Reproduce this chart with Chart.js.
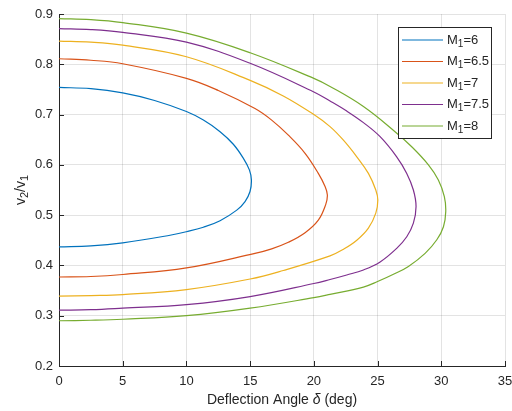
<!DOCTYPE html>
<html>
<head>
<meta charset="utf-8">
<script src="https://cdn.jsdelivr.net/npm/chart.js@4.4.0/dist/chart.umd.min.js"></script>
<style>
  html, body { margin: 0; padding: 0; background: #fff; }
  #wrap { width: 512px; height: 411px; position: relative; }
</style>
</head>
<body>
<div id="wrap"><canvas id="shockChart"></canvas></div>
<script>
// Curves go from the upper branch at delta=0, round the nose, back along the lower branch
const delta6 = [0, 2.5, 5, 7.5, 10, 11.33, 12.64, 13.68, 14.47, 14.94, 15.1, 14.99, 14.6, 13.95, 12.64, 11.33, 10, 8.71, 5, 2.5, 0];
const v6 =     [0.754, 0.7515, 0.743, 0.728, 0.706, 0.689, 0.666, 0.641, 0.613, 0.590, 0.570, 0.547, 0.527, 0.510, 0.489, 0.476, 0.467, 0.460, 0.445, 0.439, 0.437];

const delta65 = [0, 2.5, 5, 10, 12.5, 15.38, 16.69, 18.0, 19.31, 20.35, 20.88, 21.06, 20.93, 20.35, 19.31, 18.0, 16.69, 15.38, 10, 5, 2.5, 0];
const v65 =     [0.811, 0.808, 0.801, 0.772, 0.748, 0.712, 0.689, 0.659, 0.623, 0.583, 0.557, 0.540, 0.521, 0.490, 0.465, 0.446, 0.433, 0.424, 0.395, 0.382, 0.378, 0.377];

const delta7 = [0, 2.5, 5, 10, 15, 17.6, 20, 21.27, 22.32, 23.37, 24.28, 24.86, 25.02, 24.86, 24.28, 23.37, 22.32, 21.27, 17.6, 15, 10, 5, 2.5, 0];
const v7 =     [0.846, 0.844, 0.838, 0.815, 0.768, 0.737, 0.700, 0.676, 0.649, 0.616, 0.583, 0.550, 0.530, 0.504, 0.474, 0.450, 0.432, 0.419, 0.390, 0.373, 0.352, 0.342, 0.340, 0.339];

const delta75 = [0, 2.5, 5, 10, 15, 20, 21.27, 22.58, 23.89, 25.2, 26.5, 27.29, 27.81, 28.02, 27.81, 27.29, 26.5, 25.2, 23.89, 22.58, 21.27, 20, 15, 10, 5, 2.5, 0];
const v75 =     [0.871, 0.869, 0.8635, 0.844, 0.802, 0.745, 0.727, 0.707, 0.684, 0.656, 0.616, 0.583, 0.550, 0.517, 0.484, 0.457, 0.434, 0.407, 0.391, 0.381, 0.372, 0.364, 0.338, 0.322, 0.315, 0.312, 0.311];

const delta8 = [0, 2.5, 5, 10, 15, 20, 21.27, 23.89, 26.37, 27.68, 28.99, 29.77, 30.24, 30.35, 30.17, 29.65, 28.73, 27.42, 26.37, 25, 23.89, 21.27, 20, 15, 10, 5, 2.5, 0];
const v8 =     [0.891, 0.889, 0.883, 0.862, 0.823, 0.772, 0.756, 0.716, 0.666, 0.636, 0.600, 0.570, 0.537, 0.507, 0.477, 0.451, 0.424, 0.398, 0.384, 0.368, 0.357, 0.3425, 0.336, 0.315, 0.300, 0.293, 0.291, 0.290];

const machLabels = ['6', '6.5', '7', '7.5', '8'];
const colors = ['#0072BD', '#D95319', '#EDB120', '#7E2F8E', '#77AC30'];

const xTicks = [0, 5, 10, 15, 20, 25, 30, 35];
const yTicks = [0.2, 0.3, 0.4, 0.5, 0.6, 0.7, 0.8, 0.9];

const FONT = "'Liberation Sans', Arial, Helvetica, sans-serif";
const INK = '#262626';

function toPoints(xs, ys) {
    return xs.map(function(x, i) { return { x: x, y: ys[i] }; });
}

const series = [[delta6, v6], [delta65, v65], [delta7, v7], [delta75, v75], [delta8, v8]];

const datasets = series.map(function(s, i) {
    return {
        label: 'M1=' + machLabels[i],
        data: toPoints(s[0], s[1]),
        borderColor: colors[i],
        backgroundColor: colors[i],
        borderWidth: 1.2,
        pointRadius: 0,
        showLine: true,
        tension: 0.4,
        fill: false
    };
});

// text with a subscript part: [base, sub, rest]
function drawSub(ctx, parts, x, y, size) {
    ctx.font = size + 'px ' + FONT;
    ctx.fillText(parts[0], x, y);
    x += ctx.measureText(parts[0]).width;
    ctx.font = Math.round(size * 0.75) + 'px ' + FONT;
    ctx.fillText(parts[1], x, y + size * 0.3);
    x += ctx.measureText(parts[1]).width;
    ctx.font = size + 'px ' + FONT;
    ctx.fillText(parts[2], x, y);
    return x + ctx.measureText(parts[2]).width;
}
function subWidth(ctx, parts, size) {
    ctx.font = size + 'px ' + FONT;
    let w = ctx.measureText(parts[0]).width + ctx.measureText(parts[2]).width;
    ctx.font = Math.round(size * 0.75) + 'px ' + FONT;
    return w + ctx.measureText(parts[1]).width;
}

const decorPlugin = {
    id: 'decor',
    afterDraw: function(chart) {
        const ctx = chart.ctx;
        const area = chart.chartArea;
        const xs = chart.scales.x, ys = chart.scales.y;
        ctx.save();

        // inward ticks
        ctx.strokeStyle = INK;
        ctx.lineWidth = 1;
        ctx.beginPath();
        xTicks.forEach(function(t) {
            const px = Math.round(xs.getPixelForValue(t)) + 0.5;
            ctx.moveTo(px, area.bottom);
            ctx.lineTo(px, area.bottom - 5);
        });
        yTicks.forEach(function(t) {
            const py = Math.round(ys.getPixelForValue(t)) + 0.5;
            ctx.moveTo(area.left, py);
            ctx.lineTo(area.left + 5, py);
        });
        ctx.stroke();

        // axis titles
        ctx.fillStyle = INK;
        ctx.textBaseline = 'middle';
        ctx.textAlign = 'left';
        const cx = (area.left + area.right) / 2;
        ctx.font = '14px ' + FONT;
        const a = 'Deflection Angle ', d = '\u03b4', b = ' (deg)';
        const wa = ctx.measureText(a).width, wb = ctx.measureText(b).width;
        ctx.font = 'italic 14px ' + FONT;
        const wd = ctx.measureText(d).width;
        let x0 = cx - (wa + wd + wb) / 2;
        ctx.font = '14px ' + FONT;
        ctx.fillText(a, x0, 400);
        ctx.font = 'italic 14px ' + FONT;
        ctx.fillText(d, x0 + wa, 400);
        ctx.font = '14px ' + FONT;
        ctx.fillText(b, x0 + wa + wd, 400);

        ctx.save();
        ctx.translate(21, (area.top + area.bottom) / 2);
        ctx.rotate(-Math.PI / 2);
        const p1 = ['v', '2', '/'], p2 = ['v', '1', ''];
        const wy = subWidth(ctx, p1, 14) + subWidth(ctx, p2, 14);
        let xx = -wy / 2;
        xx = drawSub(ctx, p1, xx, 0, 14);
        drawSub(ctx, p2, xx, 0, 14);
        ctx.restore();

        // legend box
        const lx = 398.5, ly = 27.5, lw = 93, lh = 111;
        ctx.fillStyle = '#fff';
        ctx.fillRect(lx, ly, lw, lh);
        ctx.strokeStyle = INK;
        ctx.strokeRect(lx, ly, lw, lh);
        chart.data.datasets.forEach(function(ds, i) {
            const ry = 40 + i * 21.5;
            ctx.strokeStyle = ds.borderColor;
            ctx.lineWidth = 1.2;
            ctx.beginPath();
            ctx.moveTo(402, ry);
            ctx.lineTo(443, ry);
            ctx.stroke();
            ctx.fillStyle = INK;
            drawSub(ctx, ['M', '1', '=' + machLabels[i]], 447, ry, 13);
        });
        ctx.restore();
    }
};

const shockCtx = document.getElementById('shockChart').getContext('2d');
const shockChart = new Chart(shockCtx, {
    type: 'scatter',
    data: { datasets: datasets },
    options: {
        responsive: true,
        maintainAspectRatio: false,
        animation: false,
        layout: { padding: { top: 14, right: 7, left: 0, bottom: 0 } },
        plugins: {
            legend: { display: false },
            tooltip: { enabled: false }
        },
        scales: {
            x: {
                type: 'linear',
                min: 0,
                max: 35,
                afterFit: function(scale) {
                    scale.height = 45;
                    scale.paddingLeft = 0;
                    scale.paddingRight = 0;
                },
                afterBuildTicks: function(scale) { scale.ticks = xTicks.map(function(v) { return { value: v }; }); },
                ticks: { color: INK, font: { family: FONT, size: 13 }, padding: 8, maxRotation: 0 },
                grid: { color: 'rgba(38,38,38,0.13)', drawTicks: false },
                border: { color: INK, width: 1 }
            },
            y: {
                type: 'linear',
                min: 0.2,
                max: 0.9,
                afterFit: function(scale) {
                    scale.width = 59;
                    scale.paddingTop = 0;
                    scale.paddingBottom = 0;
                },
                afterBuildTicks: function(scale) { scale.ticks = yTicks.map(function(v) { return { value: v }; }); },
                ticks: {
                    color: INK, font: { family: FONT, size: 13 }, padding: 6,
                    callback: function(v) { return v.toFixed(1); }
                },
                grid: { color: 'rgba(38,38,38,0.13)', drawTicks: false },
                border: { color: INK, width: 1 }
            }
        }
    },
    plugins: [decorPlugin]
});
</script>
</body>
</html>
